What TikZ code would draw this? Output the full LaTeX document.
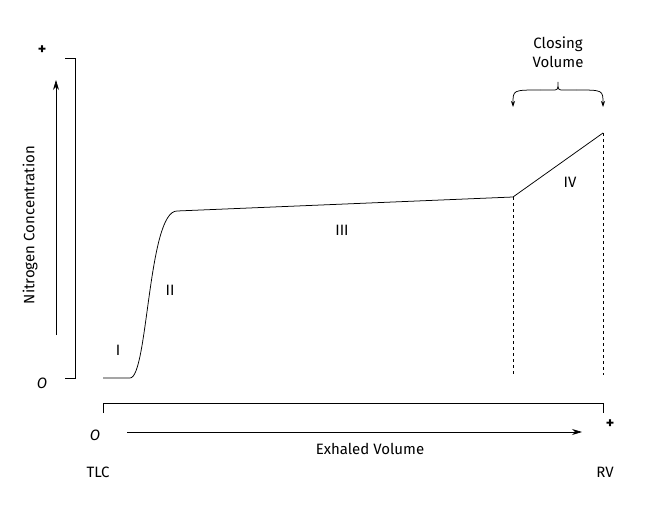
\documentclass[tikz,border=0pt]{standalone}
\usepackage{fontspec}
\setmainfont{Fira Sans}
\usetikzlibrary{arrows.meta}
\tikzset{every picture/.style={line width=0.75pt}}
\tikzset{lbl/.style={font=\fontsize{15}{19}\selectfont}}
\begin{document}
\begin{tikzpicture}[x=1pt,y=1pt,yscale=-1,xscale=1]
\useasboundingbox (0,0) rectangle (649,511);

%Axes
\draw (65,58) -- (75,58) -- (75,378) -- (65,378);
\draw (103,413) -- (103,403) -- (603,403) -- (603,413);
\node[lbl,font=\fontsize{16}{19}\bfseries] (plusy) at (42,50) {+};
\node[lbl,font=\fontsize{15}{19}\itshape] (zeroy) at (42,383) {O};
\node[lbl,font=\fontsize{15}{19}\itshape] (zerox) at (95,435) {O};
\node[lbl,font=\fontsize{16}{19}\bfseries] (plusx) at (610,424) {+};
\coordinate (ya) at (56,335);
\coordinate (yb) at (56,80);
\draw[-{Stealth[length=10pt,width=6pt]}] (ya) -- (yb);
\node[lbl,rotate=90] (ylab) at (30,225) {Nitrogen Concentration};
\coordinate (xa) at (127,432);
\coordinate (xb) at (582,432);
\draw[-{Stealth[length=10pt,width=6pt]}] (xa) -- (xb);
\node[lbl] (xlab) at (370,449) {Exhaled Volume};
\node[lbl] (tlc) at (98,472) {TLC};
\node[lbl] (rv) at (605,472) {RV};

%Curve
\draw (103,378) -- (130,378) .. controls (148,378) and (148,211) .. (177,211) -- (513,197) -- (603,133);
\draw[dashed] (513,197) -- (513,375);
\draw[dashed] (603,133) -- (603,375);

%Brace
\draw[-{Stealth[length=6pt,width=4pt]}] (540,90) .. controls (513,90) .. (513,107);
\draw[-{Stealth[length=6pt,width=4pt]}] (576,90) .. controls (603,90) .. (603,107);
\draw (540,90) -- (552,90) .. controls (558,90) .. (558,82) .. controls (558,90) .. (564,90) -- (576,90);
\node[lbl,align=center] (cv) at (558,52) {Closing\\Volume};

%Phases
\node[lbl] (p1) at (118,350) {I};
\node[lbl] (p2) at (170,290) {II};
\node[lbl] (p3) at (342,230) {III};
\node[lbl] (p4) at (570,182) {IV};
\end{tikzpicture}
\end{document}
